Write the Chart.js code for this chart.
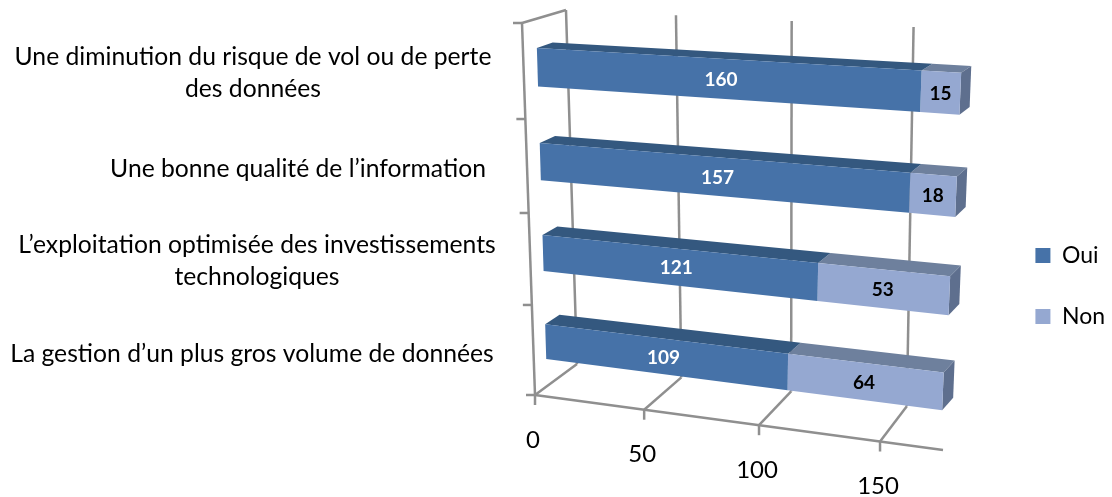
<!DOCTYPE html>
<html>
<head>
<meta charset="utf-8">
<style>
  html, body { margin: 0; padding: 0; background: #fff; }
  #wrap { width: 1112px; height: 497px; }
</style>
<script src="https://cdn.jsdelivr.net/npm/chart.js@4"></script>
</head>
<body>
<div id="wrap"><canvas id="chart" width="1112" height="497"></canvas></div>
<script>
var categories = [
  ['Une diminution du risque de vol ou de perte', 'des données'],
  ['Une bonne qualité de l\u2019information'],
  ['L\u2019exploitation optimisée des investissements', 'technologiques'],
  ['La gestion d\u2019un plus gros volume de données']
];
var oui = [160, 157, 121, 109];
var non = [15, 18, 53, 64];
var xTicks = [0, 50, 100, 150];
var xMax = 175;

var fontFamily = 'Lato, "Open Sans", sans-serif';
var gridColor = '#8f8f8f';

/* Homography: unit square -> quad (tl, tr, br, bl) */
function makeHomography(q) {
  var x0 = q[0][0], y0 = q[0][1], x1 = q[1][0], y1 = q[1][1];
  var x2 = q[2][0], y2 = q[2][1], x3 = q[3][0], y3 = q[3][1];
  var dx1 = x1 - x2, dx2 = x3 - x2, sx = x0 - x1 + x2 - x3;
  var dy1 = y1 - y2, dy2 = y3 - y2, sy = y0 - y1 + y2 - y3;
  var det = dx1 * dy2 - dx2 * dy1;
  var g = (sx * dy2 - dx2 * sy) / det;
  var h = (dx1 * sy - sx * dy1) / det;
  var a = x1 - x0 + g * x1, b = x3 - x0 + h * x3;
  var d = y1 - y0 + g * y1, e = y3 - y0 + h * y3;
  return function(u, v) {
    var w = g * u + h * v + 1;
    return [(a * u + b * v + x0) / w, (d * u + e * v + y0) / w];
  };
}

/* Front and back planes of the bars, screen corners */
var frontPlane = makeHomography([[536, 19], [962.5, 41], [946, 439], [547, 385]]);
var backPlane = makeHomography([[552, 14], [972.5, 35], [957, 426], [561, 375]]);

function persp(u, r) { return u / (u + (1 - u) * r); }
function lerp(a, b, t) { return [a[0] + (b[0] - a[0]) * t, a[1] + (b[1] - a[1]) * t]; }

function poly(c, pts, color) {
  c.beginPath();
  c.moveTo(pts[0][0], pts[0][1]);
  for (var i = 1; i < pts.length; i++) c.lineTo(pts[i][0], pts[i][1]);
  c.closePath();
  c.fillStyle = color;
  c.fill();
}

function seg(c, a, b) {
  c.beginPath();
  c.moveTo(a[0], a[1]);
  c.lineTo(b[0], b[1]);
  c.stroke();
}

var bars3d = {
  id: 'bars3d',
  /* walls, floor, axis ticks and axis labels */
  beforeDatasetsDraw: function(chart) {
    var c = chart.ctx, xs = chart.scales.x, ys = chart.scales.y, area = chart.chartArea;
    var floorFront = [[535, 395], [943, 450]];
    var floorBack = [[577, 364], [967, 414]];
    var wallTop = [[566, 10], [977, 30]];
    var sideTop = [522, 23];
    c.save();
    c.strokeStyle = gridColor;
    c.lineWidth = 2.5;
    seg(c, floorFront[0], floorFront[1]);
    seg(c, sideTop, floorFront[0]);
    seg(c, sideTop, wallTop[0]);
    seg(c, [513, 23], sideTop);
    xTicks.forEach(function(t) {
      var s = persp((xs.getPixelForValue(t) - area.left) / area.width, 1.095);
      var f = lerp(floorFront[0], floorFront[1], s);
      var b = lerp(floorBack[0], floorBack[1], s);
      var top = lerp(wallTop[0], wallTop[1], s);
      seg(c, f, b);
      seg(c, b, top);
      seg(c, f, [f[0], f[1] + 10]);
      c.fillStyle = '#000';
      c.font = '24px ' + fontFamily;
      c.textAlign = 'center';
      c.textBaseline = 'middle';
      c.fillText(String(t), f[0] - 2, f[1] + 45);
    });
    /* category separators on the side wall */
    for (var k = 1; k <= categories.length; k++) {
      var p = lerp(sideTop, floorFront[0], persp(k / categories.length, 0.958));
      seg(c, [p[0] - 9, p[1]], p);
    }
    /* category labels */
    var labelX = [253, 298, 257, 252];
    var labelDy = [6, 7, 8, 12];
    c.fillStyle = '#000';
    c.font = '24.7px ' + fontFamily;
    c.textAlign = 'center';
    c.textBaseline = 'middle';
    categories.forEach(function(lines, i) {
      var py = ys.getPixelForValue(i);
      var cy = frontPlane(0, (py - area.top) / area.height)[1] + labelDy[i];
      lines.forEach(function(line, j) {
        c.fillText(line, labelX[i], cy + (j - (lines.length - 1) / 2) * 32);
      });
    });
    c.restore();
  },
  /* native flat rectangles are replaced by projected boxes */
  beforeDatasetDraw: function(chart, args) {
    var c = chart.ctx, area = chart.chartArea;
    var meta = args.meta;
    var isLast = args.index === chart.data.datasets.length - 1;
    var topColor = args.index === 0 ? '#34587f' : '#6e809d';
    function nu(px) { return (px - area.left) / area.width; }
    function nv(py) { return (py - area.top) / area.height; }
    c.save();
    meta.data.forEach(function(el) {
      var u0 = nu(el.base), u1 = nu(el.x);
      var v0 = nv(el.y - el.height / 2), v1 = nv(el.y + el.height / 2);
      poly(c, [frontPlane(u0, v0), frontPlane(u1, v0), backPlane(u1, v0), backPlane(u0, v0)], topColor);
      if (isLast) {
        poly(c, [frontPlane(u1, v0), backPlane(u1, v0), backPlane(u1, v1), frontPlane(u1, v1)], '#5e6f8e');
      }
      poly(c, [frontPlane(u0, v0), frontPlane(u1, v0), frontPlane(u1, v1), frontPlane(u0, v1)], chart.data.datasets[args.index].backgroundColor);
    });
    c.restore();
    return false;
  },
  /* value labels in the middle of each front face */
  afterDatasetsDraw: function(chart) {
    var c = chart.ctx, area = chart.chartArea;
    c.save();
    c.font = 'bold 19px ' + fontFamily;
    c.textAlign = 'center';
    c.textBaseline = 'middle';
    chart.data.datasets.forEach(function(ds, d) {
      chart.getDatasetMeta(d).data.forEach(function(el, i) {
        var p = frontPlane(((el.base + el.x) / 2 - area.left) / area.width, (el.y - area.top) / area.height);
        c.fillStyle = d === 0 ? '#fff' : '#000';
        c.fillText(String(ds.data[i]), p[0], p[1] + 1);
      });
    });
    c.restore();
  }
};

new Chart(document.getElementById('chart'), {
  type: 'bar',
  data: {
    labels: categories,
    datasets: [
      { label: 'Oui', data: oui, backgroundColor: '#4672a8', categoryPercentage: 0.4, barPercentage: 1 },
      { label: 'Non', data: non, backgroundColor: '#95a8d1', categoryPercentage: 0.4, barPercentage: 1 }
    ]
  },
  options: {
    indexAxis: 'y',
    responsive: false,
    animation: false,
    layout: { padding: { top: 75, right: -3, bottom: 0, left: 0 } },
    scales: {
      x: {
        stacked: true,
        display: false,
        min: 0,
        max: xMax,
        afterBuildTicks: function(axis) {
          axis.ticks = xTicks.map(function(v) { return { value: v }; });
        }
      },
      y: { stacked: true, display: false }
    },
    plugins: {
      tooltip: { enabled: false },
      legend: {
        position: 'right',
        labels: {
          boxWidth: 15,
          boxHeight: 15,
          padding: 38,
          color: '#000',
          font: { size: 23, family: fontFamily }
        }
      }
    }
  },
  plugins: [bars3d]
});
</script>
</body>
</html>
